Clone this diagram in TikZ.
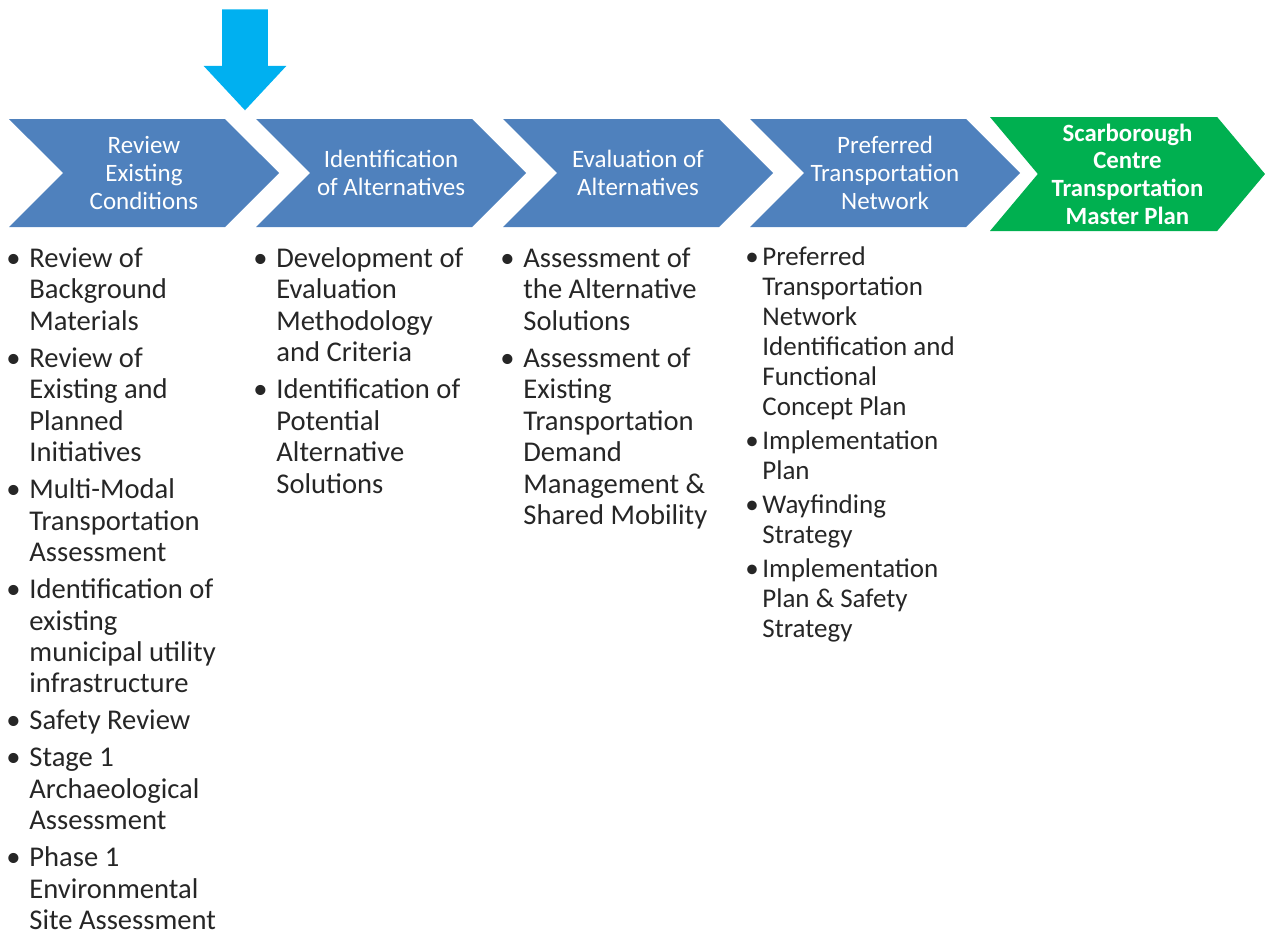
\documentclass[tikz,border=0pt]{standalone}
\usepackage{fontspec}
\setmainfont{Carlito}
\usepackage{tikz}
\usetikzlibrary{shapes.symbols,shapes.arrows,positioning}
\definecolor{chevblue}{RGB}{79,129,189}
\definecolor{chevgreen}{RGB}{0,176,80}
\definecolor{startblue}{RGB}{0,176,240}
\definecolor{bodytext}{RGB}{38,38,38}
\tikzstyle{fasestep} = [signal,signal to=east,signal from=west,signal pointer angle=90,minimum width=135pt,minimum height=54pt,inner sep=0pt,fill=chevblue,text=white,align=center,font=\fontsize{12.5}{14}\selectfont]
\tikzstyle{fasefinale} = [fasestep,fill=chevgreen,signal pointer angle=100,minimum width=137.5pt,minimum height=57pt,font=\bfseries\fontsize{12.4}{13.85}\selectfont]
\tikzstyle{elenco} = [anchor=base west,inner sep=0pt,text=bodytext,font=\fontsize{14.3}{15.75}\selectfont]
\tikzstyle{elencopiccolo} = [elenco,font=\fontsize{13.5}{15}\selectfont]
\newcommand{\pallino}{\llap{\makebox[11.5pt][l]{\textbullet}}}
\newcommand{\pallinostretto}{\llap{\makebox[8.5pt][l]{\textbullet}}}

\begin{document}
\begin{tikzpicture}[x=0.5pt,y=-0.5pt]
\useasboundingbox (0,0) rectangle (1265,937);

% 1 px = 0.5pt, y goes down

\node (start) [single arrow,shape border rotate=270,fill=startblue,inner sep=11.25pt,minimum width=41pt,minimum height=50.5pt,single arrow head extend=9.25pt,single arrow tip angle=86] at (245,47.5) {};

\node (rev)     [fasestep] at (144,173) {Review\\Existing\\Conditions};
\node (ident)   [fasestep] at (391,173) {Identification\\of Alternatives};
\node (evalalt) [fasestep] at (638,173) {Evaluation of\\Alternatives};
\node (pref)    [fasestep] at (885,173) {Preferred\\Transportation\\Network};
\node (tmp)     [fasefinale] at (1127.5,174) {Scarborough\\Centre\\Transportation\\Master Plan};

\node (revlist) [elenco] at (29,267) {\begin{tabular}[t]{@{}l@{}}
\pallino Review of\\Background\\Materials\\[2.75pt]
\pallino Review of\\Existing and\\Planned\\Initiatives\\[2.75pt]
\pallino Multi-Modal\\Transportation\\Assessment\\[2.75pt]
\pallino Identification of\\existing\\municipal utility\\infrastructure\\[2.75pt]
\pallino Safety Review\\[2.75pt]
\pallino Stage 1\\Archaeological\\Assessment\\[2.75pt]
\pallino Phase 1\\Environmental\\Site Assessment
\end{tabular}};

\node (identlist) [elenco] at (276,267) {\begin{tabular}[t]{@{}l@{}}
\pallino Development of\\Evaluation\\Methodology\\and Criteria\\[2.75pt]
\pallino Identification of\\Potential\\Alternative\\Solutions
\end{tabular}};

\node (evallist) [elenco] at (523,267) {\begin{tabular}[t]{@{}l@{}}
\pallino Assessment of\\the Alternative\\Solutions\\[2.75pt]
\pallino Assessment of\\Existing\\Transportation\\Demand\\Management \&\\Shared Mobility
\end{tabular}};

\node (preflist) [elencopiccolo] at (762,265) {\begin{tabular}[t]{@{}l@{}}
\pallinostretto Preferred\\Transportation\\Network\\Identification and\\Functional\\Concept Plan\\[2pt]
\pallinostretto Implementation\\Plan\\[2pt]
\pallinostretto Wayfinding\\Strategy\\[2pt]
\pallinostretto Implementation\\Plan \& Safety\\Strategy
\end{tabular}};

\end{tikzpicture}
\end{document}
